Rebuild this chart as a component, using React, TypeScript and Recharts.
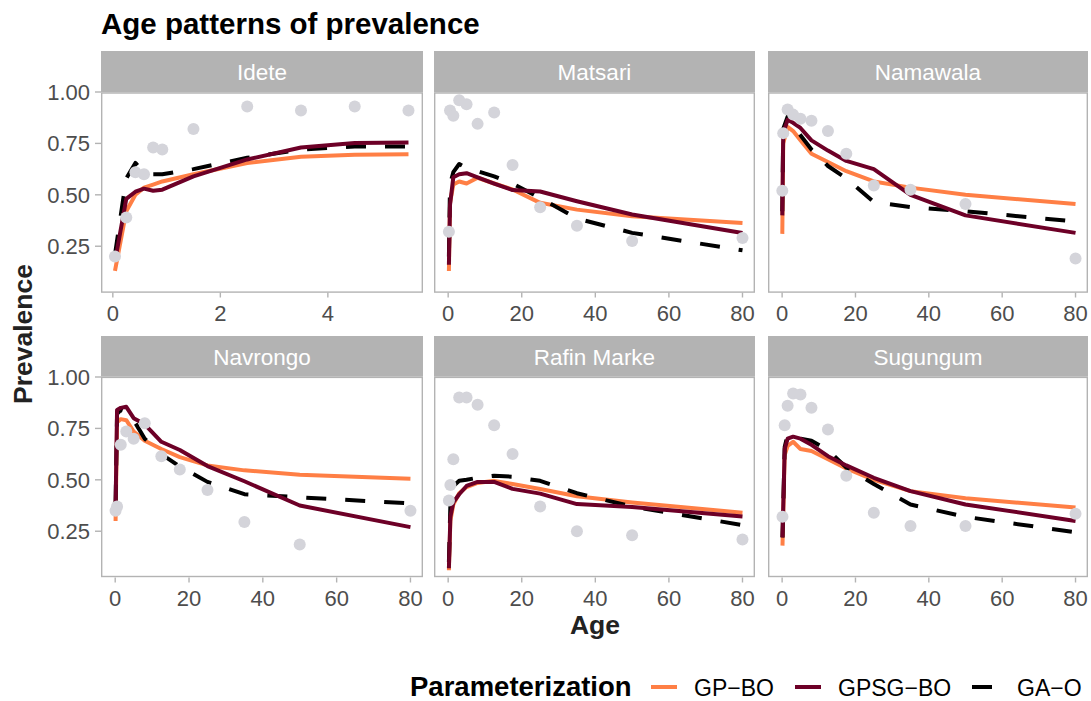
import { ComposedChart, Line, Scatter, XAxis, YAxis } from 'recharts'

// ages (x) and prevalence values per site
const ideteAge = [0.04, 0.25, 0.42, 0.58, 0.75, 0.92, 1.5, 2.5, 3.5, 4.5, 5.5]
const ideteObs = [0.2, 0.39, 0.61, 0.6, 0.73, 0.72, 0.82, 0.93, 0.91, 0.93, 0.91]
const ideteGP = [0.13, 0.42, 0.5, 0.535, 0.55, 0.565, 0.6, 0.655, 0.685, 0.695, 0.697]
const ideteGPSG = [0.175, 0.48, 0.515, 0.53, 0.52, 0.525, 0.59, 0.672, 0.73, 0.752, 0.755]
const ideteGAO = [0.21, 0.58, 0.655, 0.61, 0.6, 0.6, 0.625, 0.68, 0.72, 0.735, 0.735]

const matsariAge = [0.2, 0.5, 1.4, 3, 5, 8, 12.5, 17.5, 25, 35, 50, 80]
const matsariObs = [0.32, 0.91, 0.885, 0.96, 0.94, 0.845, 0.9, 0.645, 0.44, 0.35, 0.275, 0.29]
const matsariGP = [0.13, 0.46, 0.55, 0.565, 0.555, 0.583, 0.555, 0.526, 0.461, 0.428, 0.396, 0.363]
const matsariGPSG = [0.16, 0.45, 0.585, 0.6, 0.605, 0.585, 0.555, 0.523, 0.516, 0.469, 0.404, 0.314]
const matsariGAO = [0.2, 0.55, 0.61, 0.65, 0.63, 0.615, 0.59, 0.555, 0.485, 0.385, 0.315, 0.23]

const namawalaAge = [0.05, 0.3, 1.5, 3, 5, 8, 12.5, 17.5, 25, 35, 50, 80]
const namawalaObs = [0.52, 0.8, 0.915, 0.89, 0.87, 0.86, 0.81, 0.7, 0.545, 0.525, 0.455, 0.19]
const namawalaGP = [0.31, 0.75, 0.83, 0.81, 0.765, 0.7, 0.66, 0.615, 0.565, 0.535, 0.5, 0.455]
const namawalaGPSG = [0.4, 0.8, 0.865, 0.85, 0.825, 0.765, 0.715, 0.665, 0.625, 0.5, 0.4, 0.315]
const namawalaGAO = [0.42, 0.82, 0.88, 0.84, 0.79, 0.72, 0.64, 0.58, 0.465, 0.44, 0.42, 0.37]

const navrongoAge = [0.1, 0.5, 1.5, 3, 5, 8, 12.5, 17.5, 25, 35, 50, 80]
const navrongoObs = [0.35, 0.37, 0.67, 0.735, 0.7, 0.775, 0.615, 0.55, 0.45, 0.295, 0.185, 0.35]
const navrongoGP = [0.3, 0.78, 0.795, 0.79, 0.735, 0.69, 0.65, 0.61, 0.57, 0.546, 0.525, 0.505]
const navrongoGPSG = [0.37, 0.84, 0.85, 0.855, 0.8, 0.77, 0.685, 0.645, 0.567, 0.493, 0.375, 0.27]
const navrongoGAO = [0.38, 0.82, 0.84, 0.83, 0.79, 0.7, 0.625, 0.565, 0.49, 0.43, 0.415, 0.385]

const rafinAge = [0.2, 0.6, 1.4, 3, 5, 8, 12.5, 17.5, 25, 35, 50, 80]
const rafinObs = [0.4, 0.475, 0.6, 0.9, 0.9, 0.865, 0.765, 0.625, 0.37, 0.25, 0.23, 0.21]
const rafinGP = [0.06, 0.3, 0.38, 0.435, 0.465, 0.485, 0.495, 0.48, 0.455, 0.42, 0.39, 0.34]
const rafinGPSG = [0.07, 0.32, 0.39, 0.43, 0.47, 0.49, 0.49, 0.456, 0.433, 0.382, 0.368, 0.322]
const rafinGAO = [0.1, 0.38, 0.47, 0.495, 0.5, 0.51, 0.52, 0.515, 0.495, 0.435, 0.37, 0.28]

const sugungumAge = [0.1, 0.7, 1.5, 3, 5, 8, 12.5, 17.5, 25, 35, 50, 80]
const sugungumObs = [0.32, 0.765, 0.86, 0.92, 0.915, 0.85, 0.745, 0.52, 0.34, 0.275, 0.275, 0.335]
const sugungumGP = [0.18, 0.62, 0.665, 0.685, 0.65, 0.64, 0.6, 0.555, 0.5, 0.445, 0.41, 0.365]
const sugungumGPSG = [0.22, 0.65, 0.7, 0.71, 0.7, 0.67, 0.615, 0.57, 0.51, 0.445, 0.38, 0.3]
const sugungumGAO = [0.22, 0.66, 0.72, 0.71, 0.7, 0.69, 0.645, 0.56, 0.48, 0.38, 0.32, 0.245]

const shortTicks = [0, 2, 4]
const longTicks = [0, 20, 40, 60, 80]
const yTicks = [0.25, 0.5, 0.75, 1]

const series = ['GP−BO', 'GPSG−BO', 'GA−O']

const ORANGE = '#FF7F45'
const MAROON = '#6D0027'
const GRAY = '#B3B3B3'
const TXT = '#4D4D4D'
const PT = '#D4D4DA'

const COL_X = [101, 434, 768]
const COL_W = [322, 321, 320]
const ROW_Y = [92.3, 376.7]
const STRIP_Y = [51, 336]
const PANEL_H = 200.5
const Y_W = 60
const X_H = 40
const PAD = 16

const pts = (xs: number[], ys: number[]) => xs.map((x, i) => ({ x, y: ys[i] }))

const panels = [
  { name: 'Idete', age: ideteAge, obs: ideteObs, gp: ideteGP, gpsg: ideteGPSG, gao: ideteGAO, ticks: shortTicks, dom: [-0.22, 5.77] },
  { name: 'Matsari', age: matsariAge, obs: matsariObs, gp: matsariGP, gpsg: matsariGPSG, gao: matsariGAO, ticks: longTicks, dom: [-3.85, 83.4] },
  { name: 'Namawala', age: namawalaAge, obs: namawalaObs, gp: namawalaGP, gpsg: namawalaGPSG, gao: namawalaGAO, ticks: longTicks, dom: [-3.85, 83.4] },
  { name: 'Navrongo', age: navrongoAge, obs: navrongoObs, gp: navrongoGP, gpsg: navrongoGPSG, gao: navrongoGAO, ticks: longTicks, dom: [-3.85, 83.4] },
  { name: 'Rafin Marke', age: rafinAge, obs: rafinObs, gp: rafinGP, gpsg: rafinGPSG, gao: rafinGAO, ticks: longTicks, dom: [-3.85, 83.4] },
  { name: 'Sugungum', age: sugungumAge, obs: sugungumObs, gp: sugungumGP, gpsg: sugungumGPSG, gao: sugungumGAO, ticks: longTicks, dom: [-3.85, 83.4] },
]

const Dot = (props: any) => <circle cx={props.cx} cy={props.cy} r={6} fill={PT} />

function Panel({ p, idx }: { p: any; idx: number }) {
  const col = idx % 3
  const row = Math.floor(idx / 3)
  const showY = col === 0
  return (
    <div style={{ position: 'absolute', left: COL_X[col] - Y_W, top: ROW_Y[row] - PAD }}>
      <ComposedChart width={COL_W[col] + Y_W} height={PANEL_H + X_H + PAD} margin={{ top: PAD, right: 0, bottom: 0, left: 0 }}>
        <XAxis
          dataKey="x"
          type="number"
          domain={p.dom}
          ticks={p.ticks}
          allowDataOverflow
          interval={0}
          height={X_H}
          axisLine={false}
          tickLine={{ stroke: GRAY, strokeWidth: 1.4 }}
          tickSize={5}
          tickMargin={8}
          tick={{ fill: TXT, fontSize: 22 }}
        />
        <YAxis
          dataKey="y"
          type="number"
          domain={[0.025, 1]}
          ticks={yTicks}
          allowDataOverflow
          interval={0}
          width={Y_W}
          axisLine={false}
          tickLine={showY ? { stroke: GRAY, strokeWidth: 1.4 } : false}
          tick={showY ? { fill: TXT, fontSize: 22 } : false}
          tickSize={6}
          tickMargin={5}
          tickFormatter={(v: number) => v.toFixed(2)}
        />
        <Scatter data={pts(p.age, p.obs)} shape={Dot} isAnimationActive={false} />
        <Line data={pts(p.age, p.gp)} dataKey="y" type="linear" stroke={ORANGE} strokeWidth={4} dot={false} strokeLinejoin="round" isAnimationActive={false} />
        <Line data={pts(p.age, p.gao)} dataKey="y" type="linear" stroke="#000" strokeWidth={4} strokeDasharray="20 19" dot={false} strokeLinejoin="round" isAnimationActive={false} />
        <Line data={pts(p.age, p.gpsg)} dataKey="y" type="linear" stroke={MAROON} strokeWidth={4} dot={false} strokeLinejoin="round" isAnimationActive={false} />
      </ComposedChart>
    </div>
  )
}

export default function App() {
  return (
    <div style={{ position: 'absolute', left: 0, top: 0, width: 1091, height: 701, background: '#fff', fontFamily: '"Liberation Sans", Arial, sans-serif', overflow: 'hidden' }}>
      {panels.map((p, i) => (
        <Panel key={p.name} p={p} idx={i} />
      ))}
      <svg width={1091} height={701} style={{ position: 'absolute', left: 0, top: 0, pointerEvents: 'none' }}>
        <text x={101} y={33.5} fontSize={29.5} fontWeight="bold" fill="#000">Age patterns of prevalence</text>
        {panels.map((p, i) => {
          const col = i % 3
          const row = Math.floor(i / 3)
          return (
            <g key={p.name}>
              <rect x={COL_X[col]} y={STRIP_Y[row]} width={COL_W[col]} height={ROW_Y[row] - STRIP_Y[row]} fill={GRAY} />
              <text x={COL_X[col] + COL_W[col] / 2} y={STRIP_Y[row] + 28.5} fontSize={22.5} fill="#fff" textAnchor="middle">{p.name}</text>
              <rect x={COL_X[col] + 0.7} y={ROW_Y[row] + 0.7} width={COL_W[col] - 1.4} height={PANEL_H - 1.4} fill="none" stroke={GRAY} strokeWidth={1.4} />
            </g>
          )
        })}
        <text x={595} y={634} fontSize={26.5} fontWeight="bold" fill="#222" textAnchor="middle">Age</text>
        <text transform="translate(32,334) rotate(-90)" fontSize={26.5} fontWeight="bold" fill="#222" textAnchor="middle">Prevalence</text>
        <text x={410} y={695.5} fontSize={27.5} fontWeight="bold" fill="#000">Parameterization</text>
        <line x1={651} x2={677} y1={687} y2={687} stroke={ORANGE} strokeWidth={4} />
        <text x={694} y={695.5} fontSize={23} fill="#000">{series[0]}</text>
        <line x1={795} x2={821} y1={687} y2={687} stroke={MAROON} strokeWidth={4} />
        <text x={838} y={695.5} fontSize={23} fill="#000">{series[1]}</text>
        <line x1={972} x2={999} y1={687} y2={687} stroke="#000" strokeWidth={4} strokeDasharray="20 20" />
        <text x={1017} y={695.5} fontSize={23} fill="#000">{series[2]}</text>
      </svg>
    </div>
  )
}
